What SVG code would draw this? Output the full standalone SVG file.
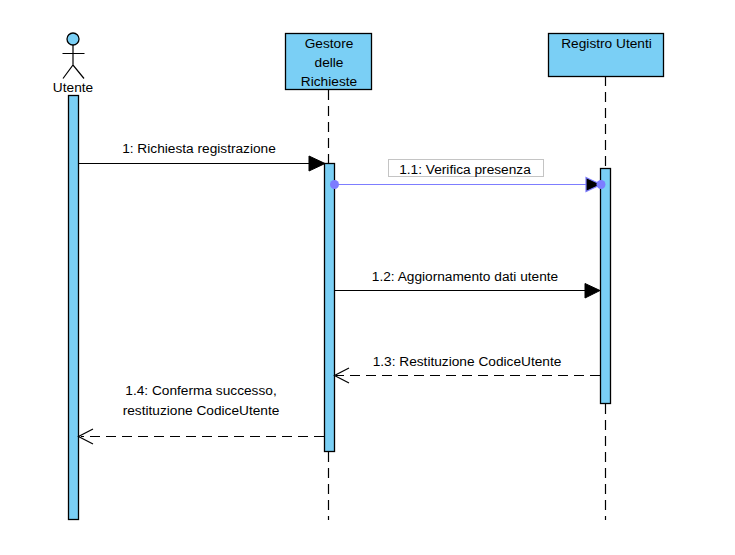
<svg xmlns="http://www.w3.org/2000/svg" width="735" height="555" viewBox="0 0 735 555">
<style>
text{font-family:"Liberation Sans",Arial,sans-serif;font-size:13.7px;fill:#000;text-anchor:middle}
.n{fill:#7acff5;stroke:#000;stroke-width:1.3}
.l{fill:none;stroke:#000;stroke-width:1.2}
.d{fill:none;stroke:#000;stroke-width:1.2;stroke-dasharray:10 6}
.b{fill:none;stroke:#7d7dff;stroke-width:1.2}
.dot{fill:#7d7dff}
</style>
<rect width="735" height="555" fill="#fff"/>
<g id="utente">
<circle class="n" cx="73" cy="39" r="6"/>
<path class="l" d="M73 45V65M62.500 53.500H84.500M63 78.500L73 65L84 78.500"/>
<text x="73" y="92">Utente</text>
<rect class="n" x="68.500" y="95.500" width="10" height="424"/>
</g>
<g id="gestore">
<rect class="n" x="285.500" y="33.500" width="86" height="56"/>
<text x="329" y="48">Gestore</text>
<text x="329" y="67">delle</text>
<text x="329" y="86">Richieste</text>
<rect class="n" x="324.500" y="163.500" width="10" height="288"/>
</g>
<g id="registro">
<rect class="n" x="548.500" y="33.500" width="115" height="43"/>
<text x="606.500" y="48">Registro Utenti</text>
<rect class="n" x="600.500" y="168.500" width="10" height="235"/>
</g>
<g id="connectors">
<path class="d" d="M328.500 90V163M328.500 452V520M605.500 76V168M605.500 404V520"/>
<path class="l" d="M78 163.500H310"/>
<path d="M309 156L325 163.500L309 171Z" fill="#000" stroke="#000"/>
<path class="b" d="M335 184.500H586"/>
<path d="M586 177.500L601 184.500L586 191.500Z" fill="#000" stroke="#7d7dff" stroke-width="1.2"/>
<circle class="dot" cx="334.500" cy="184.500" r="4.500"/>
<circle class="dot" cx="601" cy="184.500" r="4.500"/>
<path class="l" d="M334 290.500H586"/>
<path d="M585 283.500L600 290.500L585 298Z" fill="#000" stroke="#000"/>
<path class="d" d="M600 375.500H336"/>
<path class="l" d="M349 368L334.500 375.500L349 383"/>
<path class="d" d="M324 436.500H81"/>
<path class="l" d="M93 429L78.500 436.500L93 444"/>
</g>
<g id="labels">
<text x="199" y="152.500">1: Richiesta registrazione</text>
<rect x="388.500" y="159.500" width="155" height="17" fill="#fff" stroke="#c4c4c4"/>
<text x="465" y="173.500">1.1: Verifica presenza</text>
<text x="465" y="280.500">1.2: Aggiornamento dati utente</text>
<text x="467" y="365.500">1.3: Restituzione CodiceUtente</text>
<text x="201" y="394.500">1.4: Conferma successo,</text>
<text x="201" y="414.500">restituzione CodiceUtente</text>
</g>
</svg>
